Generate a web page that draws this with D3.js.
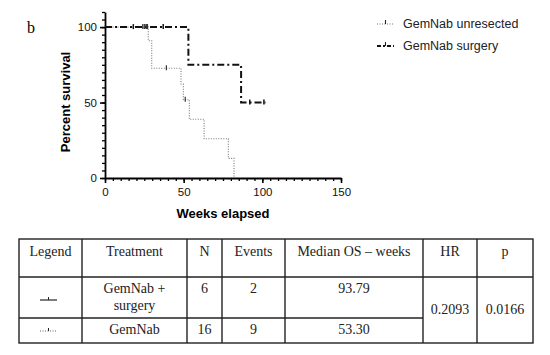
<!DOCTYPE html>
<html>
<head>
<meta charset="utf-8">
<script src="https://cdn.jsdelivr.net/npm/d3@7"></script>
<style>
  body { margin: 0; background: #fff; }
  svg { display: block; }
</style>
</head>
<body>
<div id="chart"></div>
<script>
// Kaplan-Meier steps (weeks, percent survival)
var surgeryTimes = [0, 53, 86.5, 102];
var surgerySurv = [100, 75, 50, 50];
var surgeryCensorT = [18, 37, 92, 101];

var unresTimes = [0, 27.5, 29.7, 48.3, 49.8, 53.6, 63, 78.4, 82];
var unresSurv = [100, 90.9, 72.7, 62.3, 51.9, 38.9, 26.0, 13.0, 0];
var unresCensorT = [24, 25, 26, 26.5, 27, 39, 51];

var seriesNames = ["GemNab unresected", "GemNab surgery"];
var xTicks = [0, 50, 100, 150];
var yTicks = [0, 50, 100];

// table contents
var tableHeader = ["Legend", "Treatment", "N", "Events", "Median OS \u2013 weeks", "HR", "p"];
var tableTreatment = [["GemNab +", "surgery"], ["GemNab"]];
var tableN = ["6", "16"];
var tableEvents = ["2", "9"];
var tableMedian = ["93.79", "53.30"];
var tableHR = "0.2093";
var tableP = "0.0166";

var svgWidth = 550, svgHeight = 355;
var svg = d3.select("#chart").append("svg")
    .attr("width", svgWidth)
    .attr("height", svgHeight);

var x = d3.scaleLinear().domain([0, 150]).range([105, 341]);
var y = d3.scaleLinear().domain([0, 110]).range([178, 12]);

var sans = "Arial, 'Liberation Sans', sans-serif";
var serif = "'Liberation Serif', 'DejaVu Serif', serif";

// panel letter
svg.append("text")
    .attr("x", 27).attr("y", 33)
    .attr("font-family", serif).attr("font-size", 16)
    .text("b");

// minor ticks
svg.append("g")
    .attr("transform", "translate(0,178)")
    .call(d3.axisBottom(x).tickValues(d3.range(0, 151, 5)).tickSize(3).tickFormat("").tickSizeOuter(0))
    .call(g => g.selectAll("line").attr("stroke-width", 1.3))
    .call(g => g.select(".domain").remove());
svg.append("g")
    .attr("transform", "translate(105,0)")
    .call(d3.axisLeft(y).tickValues(d3.range(0, 111, 5)).tickSize(3).tickFormat("").tickSizeOuter(0))
    .call(g => g.selectAll("line").attr("stroke-width", 1.3))
    .call(g => g.select(".domain").remove());

// major axes
var xAxis = svg.append("g")
    .attr("transform", "translate(0,178)")
    .call(d3.axisBottom(x).tickValues(xTicks).tickSize(5).tickSizeOuter(0));
var yAxis = svg.append("g")
    .attr("transform", "translate(105,0)")
    .call(d3.axisLeft(y).tickValues(yTicks).tickSize(5).tickSizeOuter(0));

[xAxis, yAxis].forEach(function (g) {
    g.select(".domain").attr("stroke-width", 1.8);
    g.selectAll(".tick line").attr("stroke-width", 1.6);
    g.selectAll(".tick text")
        .attr("font-family", sans).attr("font-size", 11.5).attr("fill", "#111");
});
xAxis.selectAll(".tick text").attr("dy", "0.9em");

// axis titles
svg.append("text")
    .attr("x", 223).attr("y", 218)
    .attr("text-anchor", "middle")
    .attr("font-family", sans).attr("font-size", 13).attr("font-weight", "bold")
    .text("Weeks elapsed");
svg.append("text")
    .attr("transform", "translate(70,102) rotate(-90)")
    .attr("text-anchor", "middle")
    .attr("font-family", sans).attr("font-size", 13).attr("font-weight", "bold")
    .text("Percent survival");

// step lines
function stepData(times, surv) {
    return times.map((t, i) => [t, surv[i]]);
}
var stepLine = d3.line()
    .x(d => x(d[0]))
    .y(d => y(d[1]))
    .curve(d3.curveStepAfter);

function survAt(times, surv, t) {
    var s = surv[0];
    for (var i = 0; i < times.length; i++) if (times[i] <= t) s = surv[i];
    return s;
}

svg.append("path")
    .datum(stepData(unresTimes, unresSurv))
    .attr("fill", "none")
    .attr("stroke", "#777")
    .attr("stroke-width", 1.1)
    .attr("stroke-dasharray", "1,1.5")
    .attr("d", stepLine);

svg.append("path")
    .datum(stepData(surgeryTimes, surgerySurv))
    .attr("fill", "none")
    .attr("stroke", "#111")
    .attr("stroke-width", 2)
    .attr("stroke-dasharray", "7,3,2,3")
    .attr("d", stepLine);

// censor marks
svg.append("g").selectAll("line")
    .data(unresCensorT)
    .join("line")
    .attr("x1", d => x(d)).attr("x2", d => x(d))
    .attr("y1", d => y(survAt(unresTimes, unresSurv, d)) - 3)
    .attr("y2", d => y(survAt(unresTimes, unresSurv, d)) + 2)
    .attr("stroke", "#333").attr("stroke-width", 1.2);

svg.append("g").selectAll("line")
    .data(surgeryCensorT)
    .join("line")
    .attr("x1", d => x(d)).attr("x2", d => x(d))
    .attr("y1", d => y(survAt(surgeryTimes, surgerySurv, d)) - 3)
    .attr("y2", d => y(survAt(surgeryTimes, surgerySurv, d)) + 2)
    .attr("stroke", "#111").attr("stroke-width", 1.5);

// legend
var legend = svg.append("g");
var legendStyles = [
    { stroke: "#777", width: 1.1, dash: "1,1.5" },
    { stroke: "#111", width: 2, dash: "4,2,2,2" }
];
seriesNames.forEach(function (name, i) {
    var ly = 24 + i * 22;
    var st = legendStyles[i];
    legend.append("line")
        .attr("x1", 377).attr("x2", 394).attr("y1", ly).attr("y2", ly)
        .attr("stroke", st.stroke).attr("stroke-width", st.width)
        .attr("stroke-dasharray", st.dash);
    legend.append("line")
        .attr("x1", 385.5).attr("x2", 385.5).attr("y1", ly - 4).attr("y2", ly)
        .attr("stroke", "#222").attr("stroke-width", 1.1);
    legend.append("text")
        .attr("x", 403).attr("y", ly + 4)
        .attr("font-family", sans).attr("font-size", 12.5).attr("fill", "#222")
        .text(name);
});

// table
var colX = [19, 82, 187, 222, 285, 423, 477, 533];
var rowY = [239, 277, 318, 343];
var table = svg.append("g")
    .attr("font-family", serif).attr("font-size", 14).attr("fill", "#222")
    .attr("text-anchor", "middle");

function cellCenter(c) { return (colX[c] + colX[c + 1]) / 2; }

tableHeader.forEach(function (h, c) {
    table.append("text")
        .attr("x", cellCenter(c)).attr("y", 256)
        .text(h);
});

// rows
[0, 1].forEach(function (r) {
    var top = rowY[r + 1];
    var firstLine = top + 16;
    tableTreatment[r].forEach(function (t, k) {
        table.append("text")
            .attr("x", cellCenter(1)).attr("y", firstLine + k * 17)
            .text(t);
    });
    table.append("text").attr("x", cellCenter(2)).attr("y", firstLine).text(tableN[r]);
    table.append("text").attr("x", cellCenter(3)).attr("y", firstLine).text(tableEvents[r]);
    table.append("text").attr("x", cellCenter(4)).attr("y", firstLine).text(tableMedian[r]);
});
table.append("text").attr("x", cellCenter(5)).attr("y", 314).text(tableHR);
table.append("text").attr("x", cellCenter(6)).attr("y", 314).text(tableP);

// legend glyphs in table
var glyphs = [
    { y: 300, stroke: "#111", width: 1.1, dash: null },
    { y: 331, stroke: "#666", width: 1, dash: "1,1.5" }
];
glyphs.forEach(function (g) {
    table.append("line")
        .attr("x1", 40).attr("x2", 57).attr("y1", g.y).attr("y2", g.y)
        .attr("stroke", g.stroke).attr("stroke-width", g.width)
        .attr("stroke-dasharray", g.dash);
    table.append("line")
        .attr("x1", 48.5).attr("x2", 48.5).attr("y1", g.y - 3).attr("y2", g.y)
        .attr("stroke", "#222").attr("stroke-width", 1);
});

// borders
var borders = svg.append("g").attr("stroke", "#222").attr("stroke-width", 1.4);
borders.append("rect")
    .attr("x", colX[0]).attr("y", rowY[0])
    .attr("width", colX[7] - colX[0]).attr("height", rowY[3] - rowY[0])
    .attr("fill", "none");
borders.append("line").attr("x1", colX[0]).attr("x2", colX[7]).attr("y1", rowY[1]).attr("y2", rowY[1]);
borders.append("line").attr("x1", colX[0]).attr("x2", colX[5]).attr("y1", rowY[2]).attr("y2", rowY[2]);
colX.slice(1, 7).forEach(function (cx) {
    borders.append("line").attr("x1", cx).attr("x2", cx).attr("y1", rowY[0]).attr("y2", rowY[3]);
});
</script>
</body>
</html>
